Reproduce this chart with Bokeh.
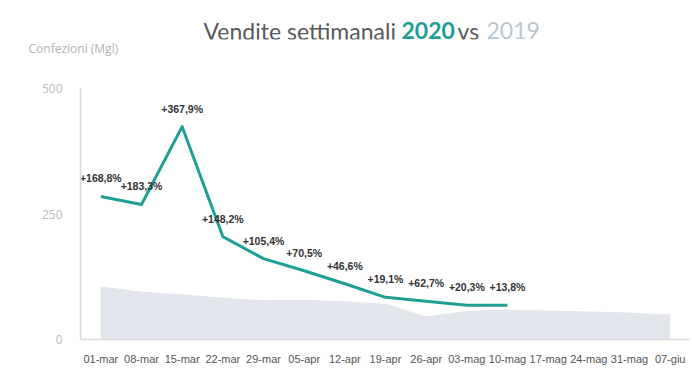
from bokeh.plotting import figure
from bokeh.layouts import column
from bokeh.models import FactorRange, Range1d, FixedTicker, Title
from bokeh.core.properties import value
from bokeh.embed import file_html
from bokeh.resources import INLINE

weeks = ["01-mar", "08-mar", "15-mar", "22-mar", "29-mar", "05-apr", "12-apr",
         "19-apr", "26-apr", "03-mag", "10-mag", "17-mag", "24-mag", "31-mag", "07-giu"]
sales_2019 = [106, 95, 90, 83, 78, 79, 76, 71, 46, 57, 60, 58, 56, 54, 50]
weeks_2020 = weeks[:11]
sales_2020 = [285, 269, 424, 205, 161, 137, 111, 84, 76, 68, 68]
growth_labels = ["+168,8%", "+183,3%", "+367,9%", "+148,2%", "+105,4%", "+70,5%",
                 "+46,6%", "+19,1%", "+62,7%", "+20,3%", "+13,8%"]
y_ticks = [0, 250, 500]

title_parts = ["Vendite settimanali", "2020", "vs", "2019"]
y_axis_title = "Confezioni (Mgl)"

TEAL = "#1f9e96"
W = 690
LEFT = 80
T_H = 58

# ---- title strip (its frame is aligned with the chart frame, so x = window px) ----
t = figure(width=W, height=T_H, x_range=Range1d(LEFT, W), y_range=Range1d(0, 1),
           output_backend="svg", toolbar_location=None,
           min_border_left=LEFT, min_border_right=0, min_border_top=0, min_border_bottom=0)
t.axis.visible = False
t.grid.visible = False
t.outline_line_color = None
t.text(x=[203, 401, 457, 486], y=[1] * 4, y_offset=30, text=title_parts,
       text_color=["#595959", TEAL, "#595959", "#b8c8d3"],
       text_font_style=["normal", "bold", "normal", "normal"],
       text_font=value("Lato"), text_font_size="23px",
       text_align="left", text_baseline="middle")
t.add_layout(Title(text=y_axis_title, align="left", offset=-52, standoff=0,
                   vertical_align="top",
                   text_color="#b3b3b3", text_font="Open Sans", text_font_size="12px",
                   text_font_style="normal"), "below")

# ---- main chart ----
p = figure(width=W, height=375 - T_H, x_range=FactorRange(*weeks), y_range=Range1d(0, 500),
           output_backend="svg", toolbar_location=None,
           min_border_left=LEFT, min_border_right=0, min_border_top=88 - T_H,
           min_border_bottom=36)
p.outline_line_color = None
p.xgrid.grid_line_color = None
p.ygrid.grid_line_color = None

p.varea(x=weeks, y1=0, y2=sales_2019, fill_color="#e4e6ee")
p.line(x=weeks_2020, y=sales_2020, line_width=3, line_color=TEAL, line_join="round")
p.text(x=weeks_2020, y=sales_2020, text=growth_labels, y_offset=-18,
       text_align="center", text_baseline="middle",
       text_font=value("Liberation Sans"), text_font_style="bold",
       text_font_size="10.5px", text_color="#333333")

p.yaxis.ticker = FixedTicker(ticks=y_ticks)
p.yaxis.axis_line_color = "#d9d9d9"
p.yaxis.axis_line_width = 1.5
p.yaxis.major_tick_line_color = None
p.yaxis.minor_tick_line_color = None
p.yaxis.major_label_text_color = "#bdbdbd"
p.yaxis.major_label_text_font = "Open Sans"
p.yaxis.major_label_text_font_size = "12px"
p.yaxis.major_label_standoff = 12

p.xaxis.axis_line_color = "#d9d9d9"
p.xaxis.axis_line_width = 1.5
p.xaxis.major_tick_line_color = None
p.xaxis.minor_tick_line_color = None
p.xaxis.major_label_text_color = "#555555"
p.xaxis.major_label_text_font = "Liberation Sans"
p.xaxis.major_label_text_font_size = "11px"
p.xaxis.major_label_standoff = 7

layout = column(t, p, spacing=0)
open("out.html", "w").write(file_html(layout, INLINE))
